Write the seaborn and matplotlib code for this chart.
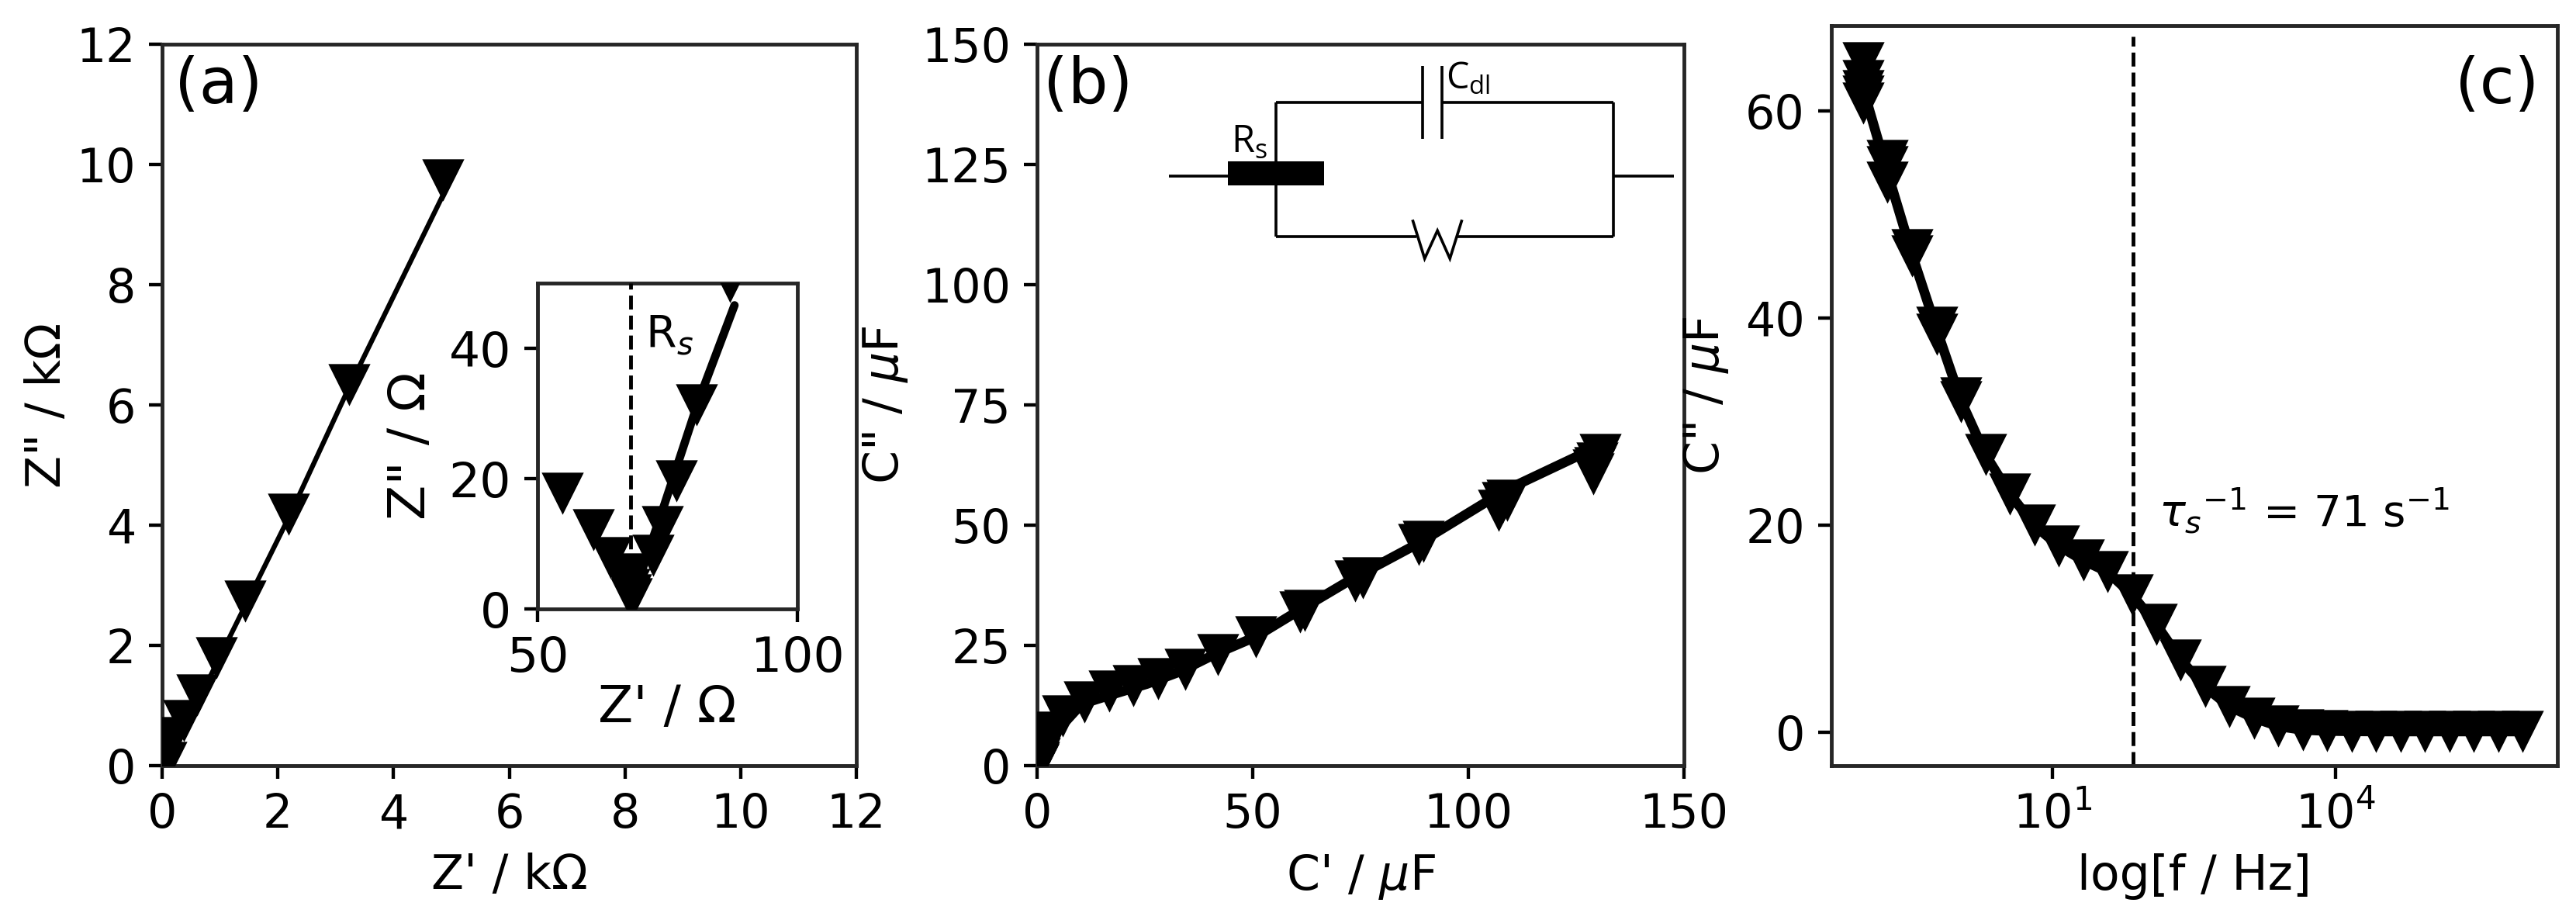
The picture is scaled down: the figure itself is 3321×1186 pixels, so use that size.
import matplotlib
matplotlib.use("Agg")
import matplotlib.pyplot as plt
import seaborn as sns

# ================= Data =================
# shared imaginary capacitance, highest to lowest value
c_imag = [64.6, 62.9, 61.9, 61.4, 60.7, 55.2, 54.6, 53.1, 46.6, 46.0, 39.1, 38.4, 32.3, 31.9,
          26.8, 23.0, 20.0, 18.0, 16.6, 15.5, 13.3, 10.4, 7.0, 4.4, 2.5, 1.4, 0.6, 0.25,
          0.15, 0.12, 0.1, 0.1, 0.1, 0.1, 0.1, 0.1, 0.1]
c_real = [130.5, 129.8, 129.3, 129.0, 129.0, 109.0, 108.0, 107.0, 89.5, 88.5, 75.5, 73.7, 62.0, 61.0,
          50.7, 41.9, 34.3, 28.0, 22.3, 16.7, 11.0, 5.9, 2.5, 1.5, 0.9, 0.5, 0.3, 0.15,
          0.1, 0.1, 0.05, 0.05, 0.05, 0.05, 0.05, 0.05, 0.05]
freq = [0.1, 0.1, 0.1, 0.1, 0.1, 0.18, 0.18, 0.18, 0.33, 0.33, 0.6, 0.6, 1.08, 1.08,
        1.96, 3.56, 6.45, 11.7, 21.2, 38.5, 69.8, 127, 229, 415, 755, 1365, 2480, 4480,
        8130, 14800, 26900, 48700, 88700, 161000, 290000, 530000, 960000]

# Nyquist plot, main panel
z_re_k = [4.86, 3.23, 2.18, 1.43, 0.94, 0.61, 0.37, 0.16, 0.1, 0.07]
z_im_k = [9.74, 6.34, 4.18, 2.73, 1.80, 1.17, 0.75, 0.47, 0.3, 0.05]
z_fit_re_k = [0.07, 2.2, 3.23, 4.86]
z_fit_im_k = [0.0, 4.15, 6.29, 9.5]

# Nyquist plot, inset
z_re_ohm = [87.0, 80.6, 76.7, 74.0, 72.2, 64.0, 60.7, 54.8, 67.5, 67.6, 67.9, 68.0]
z_im_ohm = [50.2, 31.3, 19.6, 12.6, 8.2, 7.9, 12.1, 17.7, 5.4, 3.0, 2.2, 1.5]
z_fit_re_ohm = [68.0, 74.4, 81.0, 87.9]
z_fit_im_ohm = [1.0, 16.0, 32.0, 46.6]

# C' / C'' line of panel b and C'' / f line of panel c
c_fit_re = [0.3, 4.7, 10.3, 16.7, 25.5, 33.0, 41.3, 50.7, 60.8, 73.4, 88.6, 108.7, 130.4]
c_fit_im = [0.0, 7.3, 12.8, 14.6, 17.0, 19.5, 23.2, 26.8, 32.3, 39.0, 46.3, 57.3, 66.5]
f_fit = [0.1, 0.18, 0.33, 0.6, 1.08, 1.96, 3.56, 6.45, 11.7, 21.2, 38.5, 69.8, 127, 229, 415, 755,
         1365, 2480, 4480, 8130, 14800, 26900, 48700, 88700, 161000, 290000, 530000, 960000]
c_fit_f = [62.0, 54.0, 46.0, 38.8, 32.0, 26.8, 23.0, 20.0, 18.0, 16.6, 15.5, 13.3, 10.4, 7.0, 4.4,
           2.5, 1.4, 0.6, 0.25, 0.15, 0.12, 0.1, 0.1, 0.1, 0.1, 0.1, 0.1, 0.1]

tau_freq = 71.6

# ================= Layout =================
W, H = 3321, 1186
DPI = 350
MARKER_S = 125
TICK_FS = 12.4
LABEL_FS = 12.7
PANEL_FS = 16.8


def axes_from_pixels(fig, left, top, right, bottom):
    """Add an axes whose box is given in pixels of the output image."""
    return fig.add_axes([left / W, 1 - bottom / H, (right - left) / W, (bottom - top) / H])


def draw_series(ax, x, y, line_x, line_y, lw):
    sns.lineplot(x=line_x, y=line_y, color='black', linewidth=lw, sort=False, estimator=None,
                 errorbar=None, ax=ax, zorder=3)
    sns.scatterplot(x=x, y=y, marker='v', s=MARKER_S, color='black', linewidth=0, ax=ax, zorder=4)


def draw_circuit(fig):
    """Equivalent circuit pasted over panel b, given in image pixels."""
    ov = fig.add_axes([0, 0, 1, 1], zorder=10)
    ov.set_xlim(0, W)
    ov.set_ylim(H, 0)
    ov.axis('off')
    ov.patch.set_alpha(0)

    px = lambda zx: 1480 + zx / 2.243
    py = lambda zy: 40 + zy / 3.0

    wires = [
        ([60, 230], [560, 560]),
        ([370, 370], [275, 795]),
        ([370, 793], [275, 275]),
        ([850, 1345], [275, 275]),
        ([1345, 1345], [275, 795]),
        ([370, 775], [795, 795]),
        ([895, 1345], [795, 795]),
        ([1345, 1520], [560, 560]),
        ([793, 793], [135, 417]),
        ([850, 850], [135, 417]),
        ([765, 800, 837, 873, 908], [730, 880, 772, 880, 730]),
    ]
    for xs, ys in wires:
        ov.plot([px(v) for v in xs], [py(v) for v in ys], color='black', lw=0.75,
                solid_capstyle='butt', solid_joinstyle='miter')
    ov.fill([px(230), px(510), px(510), px(230)], [py(503), py(503), py(598), py(598)], color='black', lw=0)
    ov.text(px(240), py(470), r'R$_{\mathregular{s}}$', fontsize=10, family='Open Sans', va='baseline')
    ov.text(px(862), py(222), r'C$_{\mathregular{dl}}$', fontsize=9.6, family='Open Sans', va='baseline')


sns.set_style("ticks")
plt.rcParams.update({
    'axes.linewidth': 1.0,
    'xtick.major.size': 3.5, 'ytick.major.size': 3.5,
    'xtick.major.width': 0.9, 'ytick.major.width': 0.9,
    'xtick.labelsize': TICK_FS, 'ytick.labelsize': TICK_FS,
    'axes.labelsize': LABEL_FS,
    'text.color': 'black', 'axes.labelcolor': 'black',
    'xtick.color': 'black', 'ytick.color': 'black',
    'font.family': ['DejaVu Sans'],
    'mathtext.default': 'it',
})

fig = plt.figure(figsize=(W / DPI, H / DPI), dpi=DPI)

# ----------------- (a) -----------------
ax_a = axes_from_pixels(fig, 209, 57, 1104, 987)
draw_series(ax_a, z_re_k, z_im_k, z_fit_re_k, z_fit_im_k, 1.3)
ax_a.set_xlim(0, 12)
ax_a.set_ylim(0, 12)
ax_a.set_xticks(range(0, 13, 2))
ax_a.set_yticks(range(0, 13, 2))
ax_a.set_xlabel("Z' / k\u03a9")
ax_a.set_ylabel('Z" / k\u03a9', labelpad=1.5)
ax_a.text(0.018, 0.985, '(a)', transform=ax_a.transAxes, fontsize=PANEL_FS, va='top')

# inset
ax_in = axes_from_pixels(fig, 693, 365, 1028, 785)
ax_in.axvline(67.9, color='black', ls='--', lw=1.0, zorder=5)
draw_series(ax_in, z_re_ohm, z_im_ohm, z_fit_re_ohm, z_fit_im_ohm, 2.2)
ax_in.set_xlim(50, 100)
ax_in.set_ylim(0, 50)
ax_in.set_xticks([50, 100])
ax_in.set_yticks([0, 20, 40])
ax_in.tick_params(labelsize=13)
ax_in.set_xlabel("Z' / \u03a9", fontsize=13.6, labelpad=0.5)
ax_in.set_ylabel('Z" / \u03a9', fontsize=13.6, labelpad=3.3)
ax_in.text(70.7, 40.1, 'R$_s$', fontsize=11.7, va='baseline')

# ----------------- (b) -----------------
ax_b = axes_from_pixels(fig, 1337, 57, 2171, 987)
draw_series(ax_b, c_real, c_imag, c_fit_re, c_fit_im, 2.6)
ax_b.set_xlim(0, 150)
ax_b.set_ylim(0, 150)
ax_b.set_xticks([0, 50, 100, 150])
ax_b.set_yticks([0, 25, 50, 75, 100, 125, 150])
ax_b.set_xlabel("C' / $\\mu$F")
ax_b.set_ylabel('C" / $\\mu$F', labelpad=3)
ax_b.text(0.01, 0.985, '(b)', transform=ax_b.transAxes, fontsize=PANEL_FS, va='top')

# ----------------- (c) -----------------
ax_c = axes_from_pixels(fig, 2361, 33, 3297, 987)
ax_c.set_xscale('log')
ax_c.axvline(tau_freq, ymax=0.985, color='black', ls='--', lw=1.0, zorder=2)
draw_series(ax_c, freq, c_imag, f_fit, c_fit_f, 2.6)
ax_c.set_xlim(10 ** -1.34, 10 ** 6.35)
ax_c.set_ylim(-3.2, 68.2)
ax_c.set_xticks([10, 10000])
ax_c.minorticks_off()
ax_c.set_yticks([0, 20, 40, 60])
ax_c.set_xlabel('log[f / Hz]')
ax_c.set_ylabel('C" / $\\mu$F')
ax_c.text(134, 20, r'$\tau_s$$^{-1}$ = 71 s$^{-1}$', fontsize=11.6, va='baseline')
ax_c.text(0.975, 0.96, '(c)', transform=ax_c.transAxes, fontsize=PANEL_FS, va='top', ha='right')

draw_circuit(fig)

fig.savefig('out.png', dpi=DPI)
